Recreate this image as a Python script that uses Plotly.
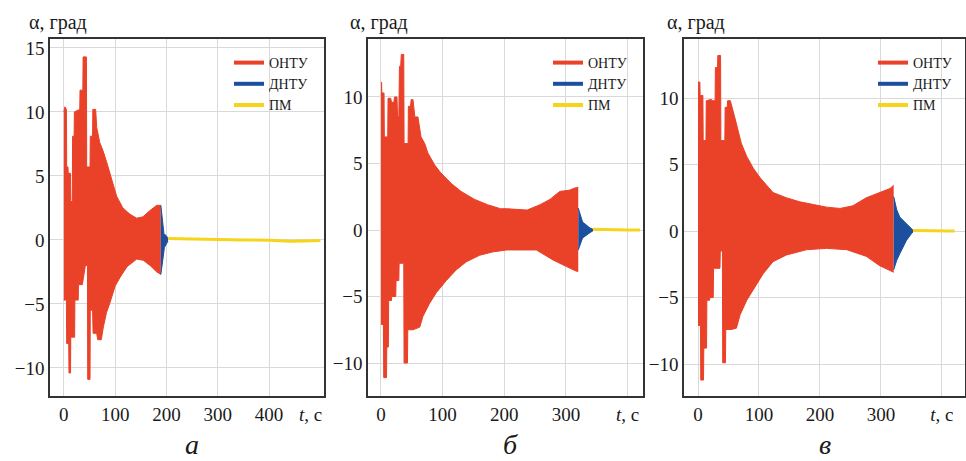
import plotly.graph_objects as go

# ---------------- data ----------------
# Panel а : ОНТУ envelope (upper / lower), ДНТУ envelope, ПМ line
a_red_t_up = [0, 2, 5, 5.5, 8, 8.5, 13, 13.5, 16.5, 17, 20, 20.5, 31, 31.5, 37, 37.5, 44, 44.5,
              51, 51.5, 56, 56.5, 62, 64, 70, 76, 84, 90, 96, 103, 115, 129, 142, 154, 168, 181, 189]
a_red_up = [10.0, 10.4, 10.2, 5.7, 5.7, 5.2, 5.2, 3.0, 3.0, 8.1, 8.1, 10.0, 10.2, 11.7, 11.7, 14.3, 14.3, 5.7,
            5.7, 8.1, 8.1, 10.2, 10.2, 8.8, 7.6, 7.0, 6.0, 5.2, 4.2, 3.4, 2.5, 2.0, 1.7, 1.8, 2.3, 2.7, 2.7]
a_red_t_lo = [0, 5, 5.5, 9.5, 10, 13, 13.5, 21, 21.5, 28, 28.5, 36, 42, 46, 46.5, 51, 51.5, 56, 57, 64,
              66, 73, 77, 83, 90, 100, 110, 123, 142, 155, 168, 181, 189]
a_red_lo = [-4.7, -4.7, -8.1, -8.1, -10.4, -10.4, -7.6, -7.6, -4.7, -4.7, -3.5, -3.5, -2.0, -2.0, -10.9, -10.9,
            -5.5, -5.5, -7.3, -7.3, -7.8, -7.8, -6.8, -5.7, -4.9, -3.6, -2.9, -2.1, -1.5, -1.6, -2.0, -2.5, -2.7]
a_blue_t_up = [189, 192, 195, 200, 203]
a_blue_up = [2.7, 1.6, 0.5, 0.3, 0.1]
a_blue_t_lo = [189, 192, 196, 200, 203]
a_blue_lo = [-2.7, -1.8, -0.6, -0.3, -0.1]
a_yel_t = [203, 250, 300, 350, 400, 440, 470, 500]
a_yel = [0.1, 0.05, 0.0, 0.0, -0.03, -0.1, -0.08, -0.05]

# Panel б
b_red_t_up = [0, 1, 1.5, 5, 5.5, 11, 11.5, 16, 17, 21, 22, 26, 27, 29, 30, 32, 33, 37, 37.5, 44, 44.5, 48,
              49, 52, 55, 60, 65, 71, 76, 87, 97, 114, 130, 152, 173, 194, 204, 237, 258, 274, 290, 306, 317, 320]
b_red_up = [11.1, 11.1, 10.3, 10.3, 7.0, 7.0, 9.9, 9.9, 9.6, 9.6, 10.0, 10.0, 8.5, 8.5, 12.3, 12.3, 13.2, 13.2,
            6.5, 6.5, 9.3, 9.3, 9.8, 9.8, 8.5, 8.5, 7.0, 6.5, 5.8, 4.9, 4.3, 3.5, 2.9, 2.3, 1.9, 1.6, 1.6, 1.5,
            1.9, 2.3, 2.9, 3.0, 3.2, 3.2]
b_red_t_lo = [0, 4, 4.5, 9, 9.5, 12, 12.5, 17, 17.5, 24, 24.5, 29, 29.5, 37, 37.5, 43, 43.5, 52, 63, 68,
              79, 90, 106, 122, 138, 160, 181, 204, 252, 279, 301, 317, 320]
b_red_lo = [-7.1, -7.1, -11.1, -11.1, -8.8, -8.8, -5.3, -5.3, -5.0, -5.0, -3.8, -3.8, -2.5, -2.5, -10.0, -10.0,
            -7.5, -7.5, -7.3, -6.5, -5.5, -4.7, -3.8, -3.0, -2.4, -1.9, -1.65, -1.5, -1.5, -2.25, -2.75, -3.1, -3.1]
b_blue_t_up = [320, 327, 339, 344]
b_blue_up = [1.65, 0.6, 0.15, 0.05]
b_blue_t_lo = [320, 327, 339, 344]
b_blue_lo = [-1.5, -0.6, -0.2, -0.05]
b_yel_t = [344, 360, 380, 400, 420]
b_yel = [0.05, 0.02, 0.0, 0.0, 0.0]

# Panel в
c_red_t_up = [0, 3, 3.5, 8, 8.5, 13, 13.5, 22, 22.5, 28, 28.5, 32, 32.5, 37, 37.5, 44, 44.5, 48, 48.5, 53,
              60, 66, 71, 80, 91, 102, 123, 145, 167, 189, 211, 233, 254, 276, 298, 315, 321]
c_red_up = [11.2, 11.2, 10.2, 10.2, 6.8, 6.8, 9.8, 9.9, 9.8, 9.8, 12.3, 12.3, 13.2, 13.2, 6.8, 6.8, 9.3, 9.3,
            9.8, 9.8, 8.6, 7.6, 6.6, 5.6, 4.7, 4.0, 2.9, 2.5, 2.2, 2.0, 1.8, 1.7, 1.9, 2.5, 2.9, 3.2, 3.45]
c_red_t_lo = [0, 4, 4.5, 9, 9.5, 14, 14.5, 19, 19.5, 25, 25.5, 36, 36.5, 40, 40.5, 45, 45.5, 55, 63, 69,
              80, 91, 107, 123, 145, 178, 211, 244, 276, 298, 321]
c_red_lo = [-7.1, -7.1, -11.2, -11.2, -8.8, -8.8, -5.2, -5.2, -5.0, -5.0, -2.8, -2.8, -1.5, -1.5, -9.9, -9.9,
            -7.4, -7.4, -7.3, -6.3, -5.2, -4.4, -3.2, -2.3, -1.8, -1.4, -1.3, -1.4, -1.9, -2.6, -3.1]
c_blue_t_up = [321, 326, 331, 342, 350, 353]
c_blue_up = [2.6, 1.6, 1.05, 0.55, 0.15, 0.05]
c_blue_t_lo = [321, 326, 331, 342, 350, 353]
c_blue_lo = [-2.9, -2.2, -1.7, -0.7, -0.2, -0.05]
c_yel_t = [353, 370, 390, 410, 421]
c_yel = [0.05, 0.02, 0.0, 0.0, 0.0]

series_names = ["ОНТУ", "ДНТУ", "ПМ"]
panel_labels = ["а", "б", "в"]
y_title = "α, град"
x_title = "<i>t</i>, с"
x_ticks_a = [0, 100, 200, 300, 400]
x_ticks_bc = [0, 100, 200, 300, 400]
y_ticks_a = [-10, -5, 0, 5, 10, 15]
y_ticks_bc = [-10, -5, 0, 5, 10]

# ---------------- style ----------------
RED = "#EA4129"
BLUE = "#1C4F9E"
YELLOW = "#F6D41C"
FONT = "Liberation Serif, Times New Roman, Tinos, serif"
TXT = "#1a1a1a"
W, H = 966, 461

fig = go.Figure()

def band(t_up, up, t_lo, lo, color, xa, ya):
    fig.add_trace(go.Scatter(x=t_up, y=up, mode="lines", line=dict(color=color, width=1),
                             xaxis=xa, yaxis=ya, showlegend=False, hoverinfo="skip"))
    fig.add_trace(go.Scatter(x=t_lo, y=lo, mode="lines", line=dict(color=color, width=1),
                             fill="tonexty", fillcolor=color,
                             xaxis=xa, yaxis=ya, showlegend=False, hoverinfo="skip"))

panels = [
    ("x", "y", "legend", (a_red_t_up, a_red_up, a_red_t_lo, a_red_lo),
     (a_blue_t_up, a_blue_up, a_blue_t_lo, a_blue_lo), (a_yel_t, a_yel)),
    ("x2", "y2", "legend2", (b_red_t_up, b_red_up, b_red_t_lo, b_red_lo),
     (b_blue_t_up, b_blue_up, b_blue_t_lo, b_blue_lo), (b_yel_t, b_yel)),
    ("x3", "y3", "legend3", (c_red_t_up, c_red_up, c_red_t_lo, c_red_lo),
     (c_blue_t_up, c_blue_up, c_blue_t_lo, c_blue_lo), (c_yel_t, c_yel)),
]

for xa, ya, lg, red, blue, yel in panels:
    band(*red, RED, xa, ya)
    band(*blue, BLUE, xa, ya)
    fig.add_trace(go.Scatter(x=yel[0], y=yel[1], mode="lines", line=dict(color=YELLOW, width=3),
                             xaxis=xa, yaxis=ya, showlegend=False, hoverinfo="skip"))
    for name, col in zip(series_names, [RED, BLUE, YELLOW]):
        fig.add_trace(go.Scatter(x=[None], y=[None], mode="lines", name=name,
                                 line=dict(color=col, width=4), xaxis=xa, yaxis=ya,
                                 legend=lg, showlegend=True))

# geometry in pixels
x_dom_px = [(50, 324), (368, 643), (684, 965)]
y_top_px, y_bot_px = 39, 396
x_ranges = [[-27, 507], [-21, 425], [-23, 438]]
y_ranges = [[-12.2, 15.7], [-12.48, 14.36], [-12.4, 14.44]]
y_ticks = [y_ticks_a, y_ticks_bc, y_ticks_bc]
x_ticks = [x_ticks_a, x_ticks_bc, x_ticks_bc]
x_ticktext = [[str(v) for v in x_ticks_a],
              [str(v) for v in x_ticks_bc[:-1]] + [x_title],
              [str(v) for v in x_ticks_bc[:-1]] + [x_title]]

axis_common = dict(showgrid=True, gridcolor="#D9D9D9", gridwidth=1, zeroline=False,
                   showline=True, linecolor="#333333", linewidth=1.5, mirror=True,
                   ticks="", tickfont=dict(family=FONT, size=19, color=TXT),
                   automargin=False)

layout = dict(width=W, height=H, margin=dict(l=0, r=0, t=0, b=0),
              paper_bgcolor="white", plot_bgcolor="white", showlegend=True,
              font=dict(family=FONT, color=TXT))

for i in range(3):
    sfx = "" if i == 0 else str(i + 1)
    x0, x1 = x_dom_px[i]
    layout["xaxis" + sfx] = dict(domain=[x0 / W, x1 / W], range=x_ranges[i],
                                 tickvals=x_ticks[i], ticktext=x_ticktext[i],
                                 anchor="y" + sfx, **axis_common)
    layout["yaxis" + sfx] = dict(domain=[1 - y_bot_px / H, 1 - y_top_px / H], range=y_ranges[i],
                                 tickvals=y_ticks[i],
                                 ticktext=[str(v).replace("-", "\u2212") for v in y_ticks[i]],
                                 anchor="x" + sfx, **axis_common)

legend_left_px = [229, 548, 873]
for i, lg in enumerate(["legend", "legend2", "legend3"]):
    layout[lg] = dict(x=legend_left_px[i] / W, xanchor="left", y=1 - 47 / H, yanchor="top",
                      bgcolor="rgba(0,0,0,0)", borderwidth=0, tracegroupgap=0,
                      traceorder="normal",
                      font=dict(family=FONT, size=14, color=TXT))

fig.update_layout(**layout)

# annotations: axis titles, t label for panel а, panel letters
ytitle_left_px = [27, 348, 665]
panel_lab_px = [192, 510, 825]
for i in range(3):
    fig.add_annotation(text=y_title, xref="paper", yref="paper", x=ytitle_left_px[i] / W, y=1 - 22 / H,
                       xanchor="left", yanchor="middle", showarrow=False,
                       font=dict(family=FONT, size=20, color=TXT))
    fig.add_annotation(text="<i>" + panel_labels[i] + "</i>", xref="paper", yref="paper",
                       x=panel_lab_px[i] / W, y=0, xanchor="center", yanchor="bottom",
                       showarrow=False, borderpad=0, font=dict(family=FONT, size=28, color=TXT))

fig.add_annotation(text=x_title, xref="x", yref="paper", x=480, y=1 - 414 / H,
                   xanchor="center", yanchor="middle", showarrow=False,
                   font=dict(family=FONT, size=19, color=TXT))

# remove the default page margin so the figure sits at the window's top-left corner
fig.write_html("out.html", config={"displayModeBar": False},
               post_script="document.body.style.margin='0';")
